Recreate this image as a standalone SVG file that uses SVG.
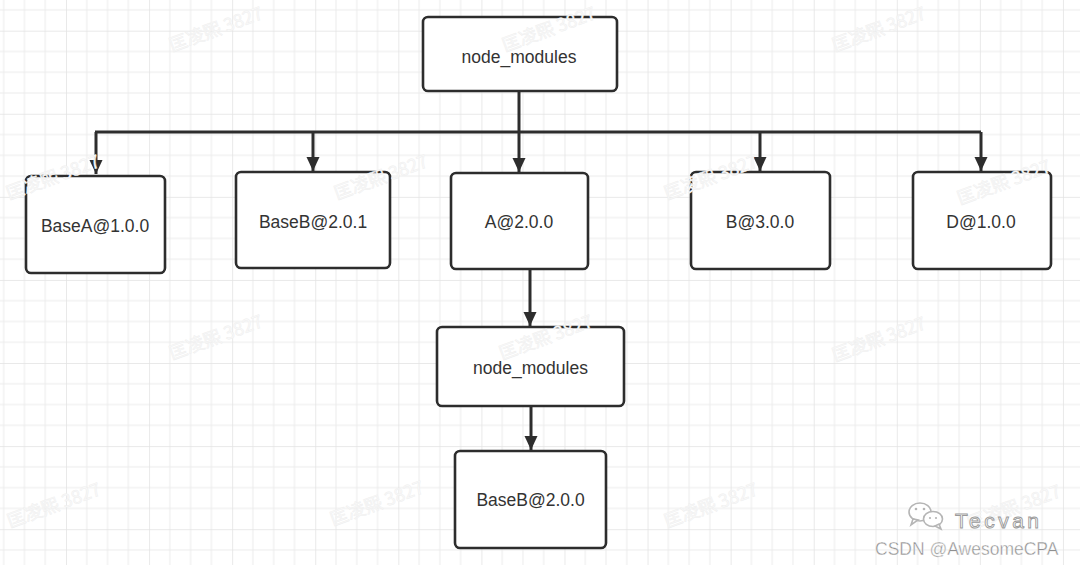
<svg xmlns="http://www.w3.org/2000/svg" width="1080" height="565" viewBox="0 0 1080 565">
  <defs>
    <pattern id="grid" patternUnits="userSpaceOnUse" x="66" y="30.7" width="83.08" height="83.08">
      <rect width="83.08" height="83.08" fill="#ffffff"/>
      <g fill="#ececec">
        <rect x="20.27" y="0" width="1" height="83.08"/>
        <rect x="41.04" y="0" width="1" height="83.08"/>
        <rect x="61.81" y="0" width="1" height="83.08"/>
        <rect x="0" y="20.27" width="83.08" height="1"/>
        <rect x="0" y="41.04" width="83.08" height="1"/>
        <rect x="0" y="61.81" width="83.08" height="1"/>
      </g>
      <g fill="#e3e3e3">
        <rect x="-0.75" y="0" width="1.5" height="83.08"/>
        <rect x="0" y="-0.75" width="83.08" height="1.5"/>
      </g>
    </pattern>
    <marker id="arr" viewBox="0 0 14 16" refX="14" refY="8" markerWidth="14" markerHeight="16" markerUnits="userSpaceOnUse" orient="auto">
      <path d="M0,1.5 L14,8 L0,14.5 Z" fill="#2d2d2d"/>
    </marker>
  </defs>
  <style>
    .box { fill: #ffffff; stroke: #2d2d2d; stroke-width: 2.6; }
    .lbl { font-family: "Liberation Sans", Arial, sans-serif; font-size: 17.5px; fill: #333333; text-anchor: middle; }
    .con { fill: none; stroke: #2d2d2d; stroke-width: 3; }
    .wm { font-family: "Noto Sans CJK SC", "Liberation Sans", sans-serif; font-size: 18px; fill: #fafafa; stroke: #efefef; stroke-width: 0.5; }
  </style>

  <rect width="1080" height="565" fill="url(#grid)"/>

  <g id="connectors">
    <path class="con" d="M519,91 V132"/>
    <path class="con" d="M95,132 H981"/>
    <path class="con" d="M96,132 V174" marker-end="url(#arr)"/>
    <path class="con" d="M313,132 V171" marker-end="url(#arr)"/>
    <path class="con" d="M519,132 V172" marker-end="url(#arr)"/>
    <path class="con" d="M760,132 V171" marker-end="url(#arr)"/>
    <path class="con" d="M981,132 V171" marker-end="url(#arr)"/>
    <path class="con" d="M530,269 V326" marker-end="url(#arr)"/>
    <path class="con" d="M531,406 V450" marker-end="url(#arr)"/>
  </g>

  <g id="node-root">
    <rect class="box" x="423" y="17" width="194" height="74" rx="5"/>
    <text class="lbl" x="519" y="63">node_modules</text>
  </g>
  <g id="node-baseA100">
    <rect class="box" x="26" y="176" width="139" height="97" rx="5"/>
    <text class="lbl" x="95" y="231.5">BaseA@1.0.0</text>
  </g>
  <g id="node-baseB201">
    <rect class="box" x="236" y="172" width="154" height="96" rx="5"/>
    <text class="lbl" x="313" y="228">BaseB@2.0.1</text>
  </g>
  <g id="node-A200">
    <rect class="box" x="451" y="173" width="137" height="96" rx="5"/>
    <text class="lbl" x="519" y="228">A@2.0.0</text>
  </g>
  <g id="node-B300">
    <rect class="box" x="691" y="172" width="139" height="97" rx="5"/>
    <text class="lbl" x="760" y="228">B@3.0.0</text>
  </g>
  <g id="node-D100">
    <rect class="box" x="913" y="172" width="138" height="97" rx="5"/>
    <text class="lbl" x="981" y="228">D@1.0.0</text>
  </g>
  <g id="node-nested-modules">
    <rect class="box" x="437" y="327" width="187" height="79" rx="5"/>
    <text class="lbl" x="530.5" y="374">node_modules</text>
  </g>
  <g id="node-baseB200">
    <rect class="box" x="455" y="451" width="151" height="97" rx="5"/>
    <text class="lbl" x="530.5" y="506">BaseB@2.0.0</text>
  </g>

  <g id="watermarks">
    <text class="wm" transform="translate(172,52) rotate(-20)">匡凌熙 3827</text>
    <text class="wm" transform="translate(505,52) rotate(-20)">匡凌熙 3827</text>
    <text class="wm" transform="translate(835,52) rotate(-20)">匡凌熙 3827</text>
    <text class="wm" transform="translate(9,200) rotate(-20)">匡凌熙 3827</text>
    <text class="wm" transform="translate(337,200) rotate(-20)">匡凌熙 3827</text>
    <text class="wm" transform="translate(667,200) rotate(-20)">匡凌熙 3827</text>
    <text class="wm" transform="translate(960,205) rotate(-20)">匡凌熙 3827</text>
    <text class="wm" transform="translate(172,360) rotate(-20)">匡凌熙 3827</text>
    <text class="wm" transform="translate(502,360) rotate(-20)">匡凌熙 3827</text>
    <text class="wm" transform="translate(835,362) rotate(-20)">匡凌熙 3827</text>
    <text class="wm" transform="translate(10,528) rotate(-20)">匡凌熙 3827</text>
    <text class="wm" transform="translate(333,526) rotate(-20)">匡凌熙 3827</text>
    <text class="wm" transform="translate(667,528) rotate(-20)">匡凌熙 3827</text>
    <text class="wm" transform="translate(970,530) rotate(-20)">匡凌熙 3827</text>
  </g>

  <g id="signature">
    <g fill="#ffffff" stroke="#b5b5b5" stroke-width="1.6">
      <ellipse cx="920" cy="512" rx="11" ry="9"/>
      <path d="M913,519 L911,525 L918,520 Z"/>
      <ellipse cx="933" cy="519" rx="9.5" ry="7.5"/>
      <path d="M939,524 L941,529 L935,526 Z"/>
    </g>
    <g fill="#b5b5b5">
      <circle cx="916" cy="509" r="1.3"/>
      <circle cx="924" cy="509" r="1.3"/>
      <circle cx="930" cy="518" r="1.1"/>
      <circle cx="936" cy="518" r="1.1"/>
    </g>
    <text x="955" y="528" font-family="'Liberation Sans', Arial, sans-serif" font-size="21" letter-spacing="3.5" fill="#ffffff" stroke="#9a9a9a" stroke-width="0.9">Tecvan</text>
    <text x="875" y="555" font-family="'Liberation Sans', Arial, sans-serif" font-size="17.5" fill="#8f8f8f" stroke="#ffffff" stroke-width="0.4">CSDN @AwesomeCPA</text>
  </g>
</svg>
